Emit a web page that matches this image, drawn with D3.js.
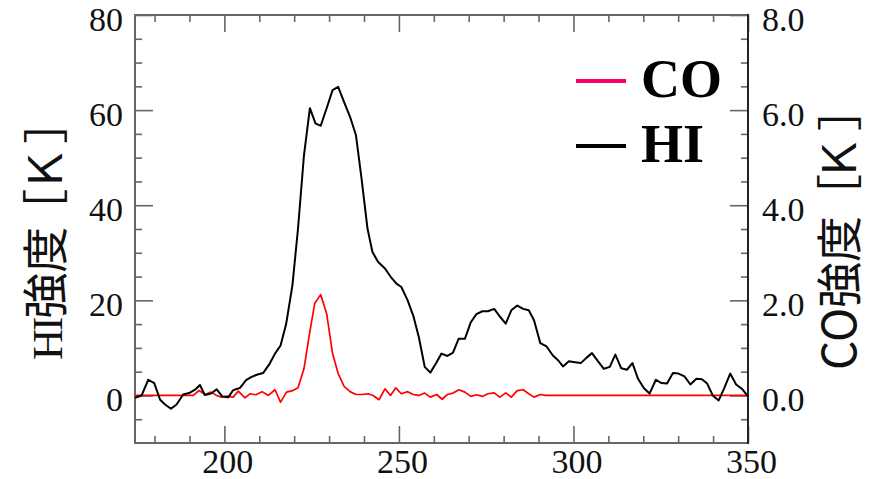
<!DOCTYPE html>
<html>
<head>
<meta charset="utf-8">
<script src="https://cdn.jsdelivr.net/npm/d3@7"></script>
<style>
  html, body { margin: 0; padding: 0; background: #fff; }
  svg { display: block; }
</style>
</head>
<body>
<svg id="chart" width="881" height="479"></svg>
<script>
// HI spectrum: [velocity km/s, brightness temperature K]
const hiSpectrum = [
  [174.4,-0.5],[176.3,0.0],[178.2,3.3],[179.9,2.6],[181.6,-0.9],[183.0,-1.9],[184.7,-2.8],[186.3,-1.9],
  [188.2,0.2],[189.9,0.5],[191.6,1.2],[193.0,2.2],[194.4,0.1],[196.2,0.4],[197.8,1.3],[199.4,-0.2],
  [201.1,-0.4],[202.5,1.1],[204.5,1.6],[206.2,3.2],[207.8,3.9],[209.5,4.4],[211.1,4.7],[213.0,6.7],
  [214.5,8.8],[216.1,10.5],[217.7,15.0],[219.5,23.2],[221.1,35.1],[222.8,50.5],[224.5,60.4],[226.1,57.2],
  [227.6,56.7],[229.3,60.4],[231.0,64.2],[232.6,64.9],[234.3,61.7],[236.0,58.6],[237.7,54.7],[239.3,45.6],
  [241.0,35.1],[242.4,30.2],[244.0,28.1],[246.0,26.7],[247.7,24.9],[249.3,23.5],[250.7,22.8],[252.5,20.0],
  [254.1,16.8],[255.7,12.3],[257.4,6.0],[259.0,4.8],[260.6,6.7],[262.2,8.8],[263.9,8.3],[265.5,9.0],
  [267.1,11.9],[268.9,11.9],[270.6,15.4],[272.2,17.1],[273.9,17.7],[275.5,17.7],[277.3,18.2],[278.9,16.6],
  [280.6,15.1],[282.2,17.9],[283.9,18.9],[285.6,18.2],[287.2,17.9],[288.7,15.8],[290.5,11.0],[292.3,10.3],
  [294.1,8.4],[295.6,7.4],[297.0,6.1],[298.7,7.2],[300.4,7.0],[302.1,6.8],[303.7,7.9],[305.3,8.9],
  [307.0,7.2],[308.7,5.6],[310.4,6.0],[312.0,8.6],[313.7,5.7],[315.3,5.4],[316.9,6.8],[318.5,3.5],
  [320.2,1.5],[321.8,0.4],[323.6,3.3],[325.2,2.6],[326.8,2.5],[328.5,4.7],[330.1,4.6],[331.8,4.0],
  [333.5,2.3],[335.2,3.5],[336.8,3.4],[338.3,2.5],[339.9,0.0],[341.6,-1.05],[343.1,1.4],[344.9,4.6],
  [346.6,2.3],[348.4,1.3],[350.0,-0.2]
];

// CO spectrum: [velocity km/s, brightness temperature K]
const coSpectrum = [
  [174.4,0.0],[191.1,0.0],[192.8,0.105],[194.4,0.02],[196.2,0.07],[197.8,0.0],[199.2,-0.035],[200.9,-0.015],
  [202.5,-0.035],[204.0,0.09],[205.9,-0.05],[207.3,0.035],[209.0,0.015],[210.8,0.08],[212.6,0.0],[214.5,0.12],
  [216.1,-0.14],[217.8,0.07],[219.5,0.1],[221.1,0.16],[222.8,0.56],[224.3,1.26],[225.9,1.94],[227.6,2.12],
  [229.3,1.72],[231.0,0.88],[232.6,0.46],[234.3,0.19],[236.0,0.08],[237.7,0.02],[239.3,0.02],[241.2,0.035],
  [242.6,0.0],[244.3,-0.09],[246.0,0.14],[247.6,0.0],[249.1,0.16],[250.7,0.035],[252.5,0.08],[254.1,0.02],
  [255.7,0.0],[257.4,0.05],[259.0,-0.035],[260.8,0.02],[262.4,-0.08],[263.9,0.02],[265.5,0.05],[267.2,0.12],
  [268.9,0.07],[270.6,-0.02],[272.2,0.015],[273.9,-0.02],[275.5,0.035],[277.3,0.055],[278.9,-0.035],[280.6,0.055],
  [282.2,-0.035],[283.9,0.1],[285.6,0.12],[287.2,0.035],[288.7,-0.035],[290.5,0.02],[292.0,0.0],[350.0,0.0]
];

// Axis ticks
const xMajorTicks = [200, 250, 300, 350];
const xMinorTicks = [180, 190, 210, 220, 230, 240, 260, 270, 280, 290, 310, 320, 330, 340];
const hiMajorTicks = [0, 20, 40, 60, 80];
const hiMinorTicks = [-5, 5, 10, 15, 25, 30, 35, 45, 50, 55, 65, 70, 75];
const coMajorTicks = [0, 2, 4, 6, 8];
const coMinorTicks = [-0.5, 0.5, 1, 1.5, 2.5, 3, 3.5, 4.5, 5, 5.5, 6.5, 7, 7.5];

// Legend entries
const legendItems = [
  { label: "CO", color: "#ff0066" },
  { label: "HI", color: "#000000" }
];

const svg = d3.select("#chart");
const plot = { left: 135, right: 748, top: 15, bottom: 443 };

const x = d3.scaleLinear().domain([174.4, 350]).range([plot.left, plot.right]);
const yHI = d3.scaleLinear().domain([-10, 80]).range([plot.bottom, plot.top]);
const yCO = d3.scaleLinear().domain([-1, 8]).range([plot.bottom, plot.top]);

const tickColor = "#666";
const numFont = "'Liberation Serif', 'Times New Roman', serif";
const numSize = 34;

svg.append("defs").append("clipPath").attr("id", "plotClip")
  .append("rect")
  .attr("x", plot.left).attr("y", plot.top)
  .attr("width", plot.right - plot.left).attr("height", plot.bottom - plot.top);

// Draws one set of inward ticks; labels are styled afterwards
function drawAxis(axisGen, tx, ty, cls) {
  const g = svg.append("g").attr("class", cls).attr("transform", `translate(${tx},${ty})`).call(axisGen);
  g.select(".domain").remove();
  g.selectAll(".tick line").attr("stroke", tickColor).attr("stroke-width", 1.6);
  return g;
}

// Bottom axis
const gxB = drawAxis(d3.axisBottom(x).tickValues(xMajorTicks).tickSize(-17).tickFormat(d3.format("d")), 0, plot.bottom, "x-bottom");
gxB.selectAll(".tick text")
  .attr("y", 30).attr("dy", 0).attr("dx", 3)
  .attr("font-family", numFont).attr("font-size", numSize).attr("fill", "#111");
drawAxis(d3.axisBottom(x).tickValues(xMinorTicks).tickSize(-7).tickFormat(""), 0, plot.bottom, "x-bottom-minor");

// Top axis (mirrored ticks, no labels)
drawAxis(d3.axisTop(x).tickValues(xMajorTicks).tickSize(-17).tickFormat(""), 0, plot.top, "x-top");
drawAxis(d3.axisTop(x).tickValues(xMinorTicks).tickSize(-7).tickFormat(""), 0, plot.top, "x-top-minor");

// Left axis: HI
const gyL = drawAxis(d3.axisLeft(yHI).tickValues(hiMajorTicks).tickSize(-18).tickFormat(d3.format("d")), plot.left, 0, "y-left");
gyL.selectAll(".tick text")
  .attr("x", -12).attr("dy", "0.45em")
  .attr("font-family", numFont).attr("font-size", numSize).attr("fill", "#111");
drawAxis(d3.axisLeft(yHI).tickValues(hiMinorTicks).tickSize(-7).tickFormat(""), plot.left, 0, "y-left-minor");

// Right axis: CO
const gyR = drawAxis(d3.axisRight(yCO).tickValues(coMajorTicks).tickSize(-18).tickFormat(d3.format(".1f")), plot.right, 0, "y-right");
gyR.selectAll(".tick text")
  .attr("x", 14).attr("dy", "0.45em")
  .attr("font-family", numFont).attr("font-size", numSize).attr("fill", "#111");
drawAxis(d3.axisRight(yCO).tickValues(coMinorTicks).tickSize(-7).tickFormat(""), plot.right, 0, "y-right-minor");

// Frame
const frame = svg.append("g").attr("class", "frame");
frame.append("path")
  .attr("d", `M${plot.right},${plot.top}H${plot.left}V${plot.bottom}H${plot.right}`)
  .attr("fill", "none").attr("stroke", "#666").attr("stroke-width", 2);
frame.append("line")
  .attr("x1", plot.right).attr("x2", plot.right).attr("y1", plot.top - 1).attr("y2", plot.bottom + 1)
  .attr("stroke", "#222").attr("stroke-width", 2);

// Spectra
const plotArea = svg.append("g").attr("clip-path", "url(#plotClip)");
plotArea.append("path")
  .datum(coSpectrum)
  .attr("fill", "none").attr("stroke", "#ff0000").attr("stroke-width", 1.7)
  .attr("stroke-linejoin", "round")
  .attr("d", d3.line().x(d => x(d[0])).y(d => yCO(d[1])));
plotArea.append("path")
  .datum(hiSpectrum)
  .attr("fill", "none").attr("stroke", "#000").attr("stroke-width", 2)
  .attr("stroke-linejoin", "round")
  .attr("d", d3.line().x(d => x(d[0])).y(d => yHI(d[1])));

// Legend
const legend = svg.append("g").attr("class", "legend").attr("transform", "translate(576,81)");
const rows = legend.selectAll("g").data(legendItems).join("g")
  .attr("transform", (d, i) => `translate(0,${i * 65})`);
rows.append("line")
  .attr("x1", 0).attr("x2", 50).attr("y1", 0).attr("y2", 0)
  .attr("stroke", d => d.color).attr("stroke-width", 4);
rows.append("text")
  .attr("x", 65).attr("y", 16)
  .attr("font-family", numFont).attr("font-weight", "bold").attr("font-size", 54)
  .attr("fill", "#000")
  .text(d => d.label);

// Axis titles (vertical, reading bottom to top)
const cjk = "'Noto Sans CJK JP', 'Noto Sans', sans-serif";
function unitTspans(text, shifts) {
  ["［", "Ｋ", "］"].forEach((ch, i) => {
    text.append("tspan").attr("font-family", cjk).attr("dx", shifts[i]).text(ch);
  });
}

const leftTitle = svg.append("text")
  .attr("transform", "translate(62,360) rotate(-90)")
  .attr("font-size", 46).attr("fill", "#111");
leftTitle.append("tspan").attr("font-family", numFont).attr("font-size", 43)
  .attr("letter-spacing", -2).text("HI");
leftTitle.append("tspan").attr("font-family", cjk).attr("letter-spacing", 0).text("強度");
unitTspans(leftTitle, [-8, -4, 3]);

const rightTitle = svg.append("text")
  .attr("transform", "translate(856,370) rotate(-90)")
  .attr("font-size", 46).attr("fill", "#111");
rightTitle.append("tspan").attr("font-family", cjk).text("CO強度");
unitTspans(rightTitle, [-4, -8, 5]);
</script>
</body>
</html>
